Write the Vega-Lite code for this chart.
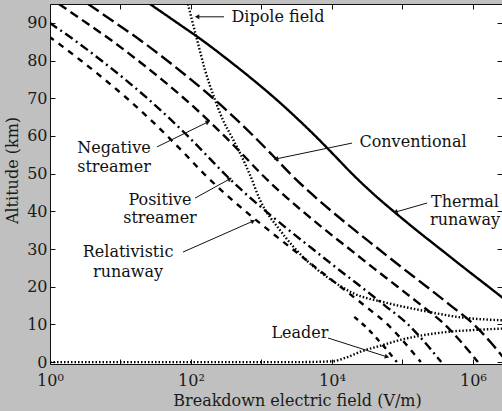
{
  "$schema": "https://vega.github.io/schema/vega-lite/v6.json",
  "width": 452,
  "height": 360,
  "autosize": "none",
  "padding": {"left": 50, "top": 4, "right": 0, "bottom": 47},
  "background": "#c0c0c0",
  "view": {"fill": "white", "stroke": "#111", "strokeWidth": 1},
  "config": {
    "text": {"font": "DejaVu Serif"},
    "axis": {"labelFont": "DejaVu Serif", "titleFont": "DejaVu Serif", "grid": false, "domain": false}
  },
  "datasets": {
    "curves": [
      {"curve": "Thermal runaway", "E": 3640000, "alt": 15},
      {"curve": "Thermal runaway", "E": 1660000, "alt": 20},
      {"curve": "Thermal runaway", "E": 750000, "alt": 25},
      {"curve": "Thermal runaway", "E": 344000, "alt": 30},
      {"curve": "Thermal runaway", "E": 158000, "alt": 35},
      {"curve": "Thermal runaway", "E": 74800, "alt": 40},
      {"curve": "Thermal runaway", "E": 36700, "alt": 45},
      {"curve": "Thermal runaway", "E": 19200, "alt": 50},
      {"curve": "Thermal runaway", "E": 10600, "alt": 55},
      {"curve": "Thermal runaway", "E": 5790, "alt": 60},
      {"curve": "Thermal runaway", "E": 3050, "alt": 65},
      {"curve": "Thermal runaway", "E": 1550, "alt": 70},
      {"curve": "Thermal runaway", "E": 746, "alt": 75},
      {"curve": "Thermal runaway", "E": 345, "alt": 80},
      {"curve": "Thermal runaway", "E": 154, "alt": 85},
      {"curve": "Thermal runaway", "E": 63.8, "alt": 90},
      {"curve": "Thermal runaway", "E": 26.1, "alt": 95},
      {"curve": "Conventional", "E": 3040000, "alt": 0},
      {"curve": "Conventional", "E": 1830000, "alt": 5},
      {"curve": "Conventional", "E": 1030000, "alt": 10},
      {"curve": "Conventional", "E": 483000, "alt": 15},
      {"curve": "Conventional", "E": 221000, "alt": 20},
      {"curve": "Conventional", "E": 99500, "alt": 25},
      {"curve": "Conventional", "E": 45700, "alt": 30},
      {"curve": "Conventional", "E": 21000, "alt": 35},
      {"curve": "Conventional", "E": 9930, "alt": 40},
      {"curve": "Conventional", "E": 4880, "alt": 45},
      {"curve": "Conventional", "E": 2550, "alt": 50},
      {"curve": "Conventional", "E": 1410, "alt": 55},
      {"curve": "Conventional", "E": 769, "alt": 60},
      {"curve": "Conventional", "E": 406, "alt": 65},
      {"curve": "Conventional", "E": 206, "alt": 70},
      {"curve": "Conventional", "E": 99.1, "alt": 75},
      {"curve": "Conventional", "E": 45.8, "alt": 80},
      {"curve": "Conventional", "E": 20.4, "alt": 85},
      {"curve": "Conventional", "E": 8.47, "alt": 90},
      {"curve": "Conventional", "E": 3.46, "alt": 95},
      {"curve": "Negative streamer", "E": 1175000, "alt": 0},
      {"curve": "Negative streamer", "E": 706000, "alt": 5},
      {"curve": "Negative streamer", "E": 396000, "alt": 10},
      {"curve": "Negative streamer", "E": 187000, "alt": 15},
      {"curve": "Negative streamer", "E": 85300, "alt": 20},
      {"curve": "Negative streamer", "E": 38500, "alt": 25},
      {"curve": "Negative streamer", "E": 17700, "alt": 30},
      {"curve": "Negative streamer", "E": 8110, "alt": 35},
      {"curve": "Negative streamer", "E": 3840, "alt": 40},
      {"curve": "Negative streamer", "E": 1880, "alt": 45},
      {"curve": "Negative streamer", "E": 984, "alt": 50},
      {"curve": "Negative streamer", "E": 545, "alt": 55},
      {"curve": "Negative streamer", "E": 297, "alt": 60},
      {"curve": "Negative streamer", "E": 157, "alt": 65},
      {"curve": "Negative streamer", "E": 79.4, "alt": 70},
      {"curve": "Negative streamer", "E": 38.3, "alt": 75},
      {"curve": "Negative streamer", "E": 17.7, "alt": 80},
      {"curve": "Negative streamer", "E": 7.89, "alt": 85},
      {"curve": "Negative streamer", "E": 3.27, "alt": 90},
      {"curve": "Negative streamer", "E": 1.34, "alt": 95},
      {"curve": "Positive streamer", "E": 355000, "alt": 0},
      {"curve": "Positive streamer", "E": 213000, "alt": 5},
      {"curve": "Positive streamer", "E": 120000, "alt": 10},
      {"curve": "Positive streamer", "E": 56400, "alt": 15},
      {"curve": "Positive streamer", "E": 25800, "alt": 20},
      {"curve": "Positive streamer", "E": 11600, "alt": 25},
      {"curve": "Positive streamer", "E": 5330, "alt": 30},
      {"curve": "Positive streamer", "E": 2450, "alt": 35},
      {"curve": "Positive streamer", "E": 1160, "alt": 40},
      {"curve": "Positive streamer", "E": 569, "alt": 45},
      {"curve": "Positive streamer", "E": 297, "alt": 50},
      {"curve": "Positive streamer", "E": 164, "alt": 55},
      {"curve": "Positive streamer", "E": 89.7, "alt": 60},
      {"curve": "Positive streamer", "E": 47.3, "alt": 65},
      {"curve": "Positive streamer", "E": 24.0, "alt": 70},
      {"curve": "Positive streamer", "E": 11.6, "alt": 75},
      {"curve": "Positive streamer", "E": 5.35, "alt": 80},
      {"curve": "Positive streamer", "E": 2.38, "alt": 85},
      {"curve": "Positive streamer", "E": 0.989, "alt": 90},
      {"curve": "Relativistic runaway", "E": 182000, "alt": 0},
      {"curve": "Relativistic runaway", "E": 109000, "alt": 5},
      {"curve": "Relativistic runaway", "E": 61400, "alt": 10},
      {"curve": "Relativistic runaway", "E": 28900, "alt": 15},
      {"curve": "Relativistic runaway", "E": 13200, "alt": 20},
      {"curve": "Relativistic runaway", "E": 5960, "alt": 25},
      {"curve": "Relativistic runaway", "E": 2740, "alt": 30},
      {"curve": "Relativistic runaway", "E": 1260, "alt": 35},
      {"curve": "Relativistic runaway", "E": 594, "alt": 40},
      {"curve": "Relativistic runaway", "E": 292, "alt": 45},
      {"curve": "Relativistic runaway", "E": 152, "alt": 50},
      {"curve": "Relativistic runaway", "E": 84.3, "alt": 55},
      {"curve": "Relativistic runaway", "E": 46.0, "alt": 60},
      {"curve": "Relativistic runaway", "E": 24.3, "alt": 65},
      {"curve": "Relativistic runaway", "E": 12.3, "alt": 70},
      {"curve": "Relativistic runaway", "E": 5.93, "alt": 75},
      {"curve": "Relativistic runaway", "E": 2.74, "alt": 80},
      {"curve": "Relativistic runaway", "E": 1.22, "alt": 85},
      {"curve": "Relativistic runaway", "E": 0.507, "alt": 90},
      {"curve": "Leader", "E": 83200, "alt": 0},
      {"curve": "Leader", "E": 61700, "alt": 3},
      {"curve": "Leader", "E": 44600, "alt": 6},
      {"curve": "Leader", "E": 31500, "alt": 9},
      {"curve": "Leader", "E": 20700, "alt": 12},
      {"curve": "Dipole field (upper)", "E": 90.6, "alt": 95},
      {"curve": "Dipole field (upper)", "E": 103, "alt": 90.8},
      {"curve": "Dipole field (upper)", "E": 122, "alt": 85.5},
      {"curve": "Dipole field (upper)", "E": 158, "alt": 77.5},
      {"curve": "Dipole field (upper)", "E": 219, "alt": 69.6},
      {"curve": "Dipole field (upper)", "E": 284, "alt": 64.2},
      {"curve": "Dipole field (upper)", "E": 372, "alt": 60},
      {"curve": "Dipole field (upper)", "E": 495, "alt": 55.5},
      {"curve": "Dipole field (upper)", "E": 692, "alt": 49.5},
      {"curve": "Dipole field (upper)", "E": 953, "alt": 43.0},
      {"curve": "Dipole field (upper)", "E": 1830, "alt": 35.0},
      {"curve": "Dipole field (upper)", "E": 4470, "alt": 26.8},
      {"curve": "Dipole field (upper)", "E": 8490, "alt": 22.6},
      {"curve": "Dipole field (upper)", "E": 19900, "alt": 18.3},
      {"curve": "Dipole field (upper)", "E": 60300, "alt": 15.7},
      {"curve": "Dipole field (upper)", "E": 177000, "alt": 13.8},
      {"curve": "Dipole field (upper)", "E": 655000, "alt": 11.9},
      {"curve": "Dipole field (upper)", "E": 2580000, "alt": 11.1},
      {"curve": "Dipole field (lower)", "E": 1, "alt": 0},
      {"curve": "Dipole field (lower)", "E": 10, "alt": 0},
      {"curve": "Dipole field (lower)", "E": 100, "alt": 0},
      {"curve": "Dipole field (lower)", "E": 1000, "alt": 0},
      {"curve": "Dipole field (lower)", "E": 3000, "alt": 0},
      {"curve": "Dipole field (lower)", "E": 10000, "alt": 0.2},
      {"curve": "Dipole field (lower)", "E": 15800, "alt": 1.2},
      {"curve": "Dipole field (lower)", "E": 27500, "alt": 3.0},
      {"curve": "Dipole field (lower)", "E": 47900, "alt": 4.3},
      {"curve": "Dipole field (lower)", "E": 89100, "alt": 5.8},
      {"curve": "Dipole field (lower)", "E": 178000, "alt": 7.0},
      {"curve": "Dipole field (lower)", "E": 427000, "alt": 8.0},
      {"curve": "Dipole field (lower)", "E": 1260000, "alt": 8.6},
      {"curve": "Dipole field (lower)", "E": 2580000, "alt": 8.9}
    ],
    "labels": [
      {"text": "Dipole field", "E": 1714, "alt": 91.6},
      {"text": "Conventional", "E": 141000, "alt": 58.4},
      {"text": "Thermal", "E": 771000, "alt": 42.5},
      {"text": "runaway", "E": 771000, "alt": 37.7},
      {"text": "Negative", "E": 8.09, "alt": 56.8},
      {"text": "streamer", "E": 8.09, "alt": 51.8},
      {"text": "Positive", "E": 36.3, "alt": 43.0},
      {"text": "streamer", "E": 36.3, "alt": 38.2},
      {"text": "Relativistic", "E": 12.8, "alt": 29.2},
      {"text": "runaway", "E": 12.8, "alt": 23.9},
      {"text": "Leader", "E": 3516, "alt": 7.7}
    ],
    "arrows": [
      {"target": "Dipole field", "E": 294, "alt": 91.6, "E2": 122, "alt2": 91.6},
      {"target": "Conventional", "E": 19200, "alt": 58.1, "E2": 1607, "alt2": 53.9},
      {"target": "Thermal runaway", "E": 223000, "alt": 42.2, "E2": 79400, "alt2": 39.8},
      {"target": "Negative streamer", "E": 33.0, "alt": 57.1, "E2": 174, "alt2": 63.7},
      {"target": "Positive streamer", "E": 114, "alt": 43.5, "E2": 356, "alt2": 48.6},
      {"target": "Relativistic runaway", "E": 77.1, "alt": 29.2, "E2": 759, "alt2": 37.4},
      {"target": "Leader", "E": 8770, "alt": 6.4, "E2": 60300, "alt2": 1.4}
    ]
  },
  "layer": [
    {
      "data": {"name": "curves"},
      "mark": {"type": "line", "clip": true, "strokeWidth": 2.4, "color": "black", "interpolate": "monotone"},
      "encoding": {
        "x": {
          "field": "E", "type": "quantitative",
          "scale": {"type": "log", "domain": [1, 2580000], "nice": false},
          "axis": {
            "orient": "bottom",
            "values": [1, 10, 100, 1000, 10000, 100000, 1000000],
            "labelExpr": "round(log(datum.value)/LN10) == 0 ? '10⁰' : round(log(datum.value)/LN10) == 2 ? '10²' : round(log(datum.value)/LN10) == 4 ? '10⁴' : round(log(datum.value)/LN10) == 6 ? '10⁶' : ''",
            "tickSize": -5, "tickColor": "#111", "tickWidth": 1,
            "labelFontSize": 16, "labelColor": "#1a1a1a", "labelPadding": 13, "labelBaseline": "top",
            "labelFlush": false, "labelOverlap": false, "labelDx": 3,
            "title": "Breakdown electric field (V/m)", "titleFontSize": 16, "titleFontWeight": "normal", "titleColor": "#1a1a1a",
            "titleX": 247, "titleY": 36, "titleBaseline": "middle", "titleAnchor": "middle"
          }
        },
        "y": {
          "field": "alt", "type": "quantitative",
          "scale": {"domain": [-0.5, 95], "nice": false, "zero": false},
          "axis": {
            "orient": "left",
            "values": [0, 10, 20, 30, 40, 50, 60, 70, 80, 90],
            "tickSize": -5, "tickColor": "#111", "tickWidth": 1,
            "labelFontSize": 16, "labelColor": "#1a1a1a", "labelPadding": 8,
            "title": "Altitude (km)", "titleFontSize": 16, "titleFontWeight": "normal", "titleColor": "#1a1a1a",
            "titleX": -38, "titleY": 166, "titleBaseline": "middle", "titleAnchor": "middle"
          }
        },
        "strokeDash": {
          "field": "curve", "type": "nominal", "legend": null,
          "scale": {
            "domain": ["Thermal runaway", "Conventional", "Negative streamer", "Positive streamer", "Relativistic runaway", "Leader", "Dipole field (upper)", "Dipole field (lower)"],
            "range": [[1, 0], [13, 5], [9, 5], [9, 4, 2, 4], [6, 6], [5, 5], [1.5, 2], [1.5, 2]]
          }
        }
      }
    },
    {
      "data": {"name": "labels"},
      "mark": {"type": "text", "fontSize": 16, "color": "#111", "align": "center", "baseline": "middle"},
      "encoding": {
        "x": {"field": "E", "type": "quantitative",
          "axis": {"orient": "top", "values": [1, 10, 100, 1000, 10000, 100000, 1000000], "labels": false, "tickSize": -5, "tickColor": "#111", "title": null}},
        "y": {"field": "alt", "type": "quantitative",
          "axis": {"orient": "right", "values": [0, 10, 20, 30, 40, 50, 60, 70, 80, 90], "labels": false, "tickSize": -5, "tickColor": "#111", "title": null}},
        "text": {"field": "text"}
      }
    },
    {
      "data": {"name": "arrows"},
      "mark": {"type": "rule", "color": "#111", "strokeWidth": 1},
      "encoding": {
        "x": {"field": "E", "type": "quantitative", "axis": null},
        "x2": {"field": "E2"},
        "y": {"field": "alt", "type": "quantitative", "axis": null},
        "y2": {"field": "alt2"}
      }
    },
    {"data": {"name": "arrows"}, "transform": [{"filter": "datum.target == 'Dipole field'"}],
     "mark": {"type": "point", "shape": "triangle-up", "filled": true, "color": "#111", "size": 26, "opacity": 1, "angle": 270},
     "encoding": {"x": {"field": "E2", "type": "quantitative", "axis": null}, "y": {"field": "alt2", "type": "quantitative", "axis": null}}},
    {"data": {"name": "arrows"}, "transform": [{"filter": "datum.target == 'Conventional'"}],
     "mark": {"type": "point", "shape": "triangle-up", "filled": true, "color": "#111", "size": 26, "opacity": 1, "angle": 258},
     "encoding": {"x": {"field": "E2", "type": "quantitative", "axis": null}, "y": {"field": "alt2", "type": "quantitative", "axis": null}}},
    {"data": {"name": "arrows"}, "transform": [{"filter": "datum.target == 'Thermal runaway'"}],
     "mark": {"type": "point", "shape": "triangle-up", "filled": true, "color": "#111", "size": 26, "opacity": 1, "angle": 254},
     "encoding": {"x": {"field": "E2", "type": "quantitative", "axis": null}, "y": {"field": "alt2", "type": "quantitative", "axis": null}}},
    {"data": {"name": "arrows"}, "transform": [{"filter": "datum.target == 'Negative streamer'"}],
     "mark": {"type": "point", "shape": "triangle-up", "filled": true, "color": "#111", "size": 26, "opacity": 1, "angle": 64},
     "encoding": {"x": {"field": "E2", "type": "quantitative", "axis": null}, "y": {"field": "alt2", "type": "quantitative", "axis": null}}},
    {"data": {"name": "arrows"}, "transform": [{"filter": "datum.target == 'Positive streamer'"}],
     "mark": {"type": "point", "shape": "triangle-up", "filled": true, "color": "#111", "size": 26, "opacity": 1, "angle": 62},
     "encoding": {"x": {"field": "E2", "type": "quantitative", "axis": null}, "y": {"field": "alt2", "type": "quantitative", "axis": null}}},
    {"data": {"name": "arrows"}, "transform": [{"filter": "datum.target == 'Relativistic runaway'"}],
     "mark": {"type": "point", "shape": "triangle-up", "filled": true, "color": "#111", "size": 26, "opacity": 1, "angle": 66},
     "encoding": {"x": {"field": "E2", "type": "quantitative", "axis": null}, "y": {"field": "alt2", "type": "quantitative", "axis": null}}},
    {"data": {"name": "arrows"}, "transform": [{"filter": "datum.target == 'Leader'"}],
     "mark": {"type": "point", "shape": "triangle-up", "filled": true, "color": "#111", "size": 26, "opacity": 1, "angle": 108},
     "encoding": {"x": {"field": "E2", "type": "quantitative", "axis": null}, "y": {"field": "alt2", "type": "quantitative", "axis": null}}}
  ]
}
